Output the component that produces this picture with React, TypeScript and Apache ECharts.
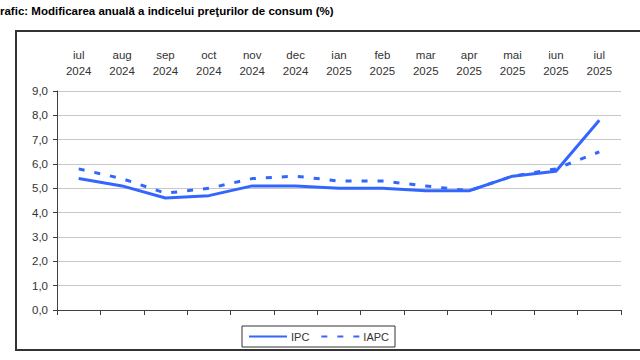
import React, { useEffect, useRef } from "react";
import * as echarts from "echarts";

const months = ["iul", "aug", "sep", "oct", "nov", "dec", "ian", "feb", "mar", "apr", "mai", "iun", "iul"];
const years = ["2024", "2024", "2024", "2024", "2024", "2024", "2025", "2025", "2025", "2025", "2025", "2025", "2025"];
const ipc = [5.4, 5.1, 4.6, 4.7, 5.1, 5.1, 5.0, 5.0, 4.9, 4.9, 5.5, 5.7, 7.8];
const iapc = [5.8, 5.4, 4.8, 5.0, 5.4, 5.5, 5.3, 5.3, 5.1, 4.9, 5.5, 5.8, 6.5];
const titleText = "rafic: Modificarea anuală a indicelui preţurilor de consum (%)";

const FONT = "'Liberation Sans', Arial, sans-serif";
const BLUE = "#3366ff";

export default function App() {
  const ref = useRef<HTMLDivElement>(null);
  useEffect(() => {
    if (!ref.current) return;
    const chart = echarts.init(ref.current, null, { renderer: "svg" });
    const categories = months.map((m, i) => m + "\n" + years[i]);
    chart.setOption({
      animation: false,
      backgroundColor: "#ffffff",
      textStyle: { fontFamily: FONT },
      graphic: [
        {
          type: "rect",
          shape: { x: 16, y: 31, width: 700, height: 319 },
          style: { fill: "none", stroke: "#333333", lineWidth: 2 },
          z: 0,
        },
        {
          type: "text",
          x: 0,
          y: 5,
          style: {
            text: titleText,
            fontFamily: FONT,
            fontSize: 11.5,
            fontWeight: "bold",
            fill: "#000000",
          },
        },
      ],
      grid: { left: 57, right: 19, top: 91, bottom: 50 },
      legend: {
        left: 242,
        top: 326,
        padding: [5, 6, 5, 6],
        itemWidth: 38,
        itemHeight: 12,
        itemGap: 11,
        borderColor: "#333333",
        borderWidth: 1,
        backgroundColor: "#ffffff",
        itemStyle: { opacity: 0 },
        z: 10,
        textStyle: { fontSize: 11, color: "#333333", fontFamily: FONT, padding: [0, 0, 0, -1] },
        data: ["IPC", "IAPC"],
      },
      xAxis: [
        {
          type: "category",
          data: categories,
          position: "bottom",
          boundaryGap: true,
          axisLine: { show: true, lineStyle: { color: "#404040", width: 1 } },
          axisTick: { show: true, interval: 0, length: 5, lineStyle: { color: "#404040" } },
          axisLabel: { show: false },
          splitLine: { show: false },
        },
        {
          type: "category",
          data: categories,
          position: "top",
          boundaryGap: true,
          axisLine: { show: false },
          axisTick: { show: false },
          axisLabel: {
            show: true,
            interval: 0,
            margin: 12,
            fontSize: 11.5,
            lineHeight: 16,
            color: "#333333",
            fontFamily: FONT,
          },
        },
      ],
      yAxis: {
        type: "value",
        min: 0,
        max: 9,
        interval: 1,
        axisLine: { show: true, lineStyle: { color: "#404040", width: 1 } },
        axisTick: { show: true, length: 4, lineStyle: { color: "#404040" } },
        axisLabel: {
          fontSize: 11.5,
          color: "#333333",
          margin: 9,
          fontFamily: FONT,
          formatter: (v: number) => v.toFixed(1).replace(".", ","),
        },
        splitLine: { show: true, lineStyle: { color: "#c8c8c8", width: 1 } },
      },
      series: [
        {
          name: "IPC",
          type: "line",
          data: ipc,
          xAxisIndex: 0,
          symbol: "none",
          lineStyle: { color: BLUE, width: 3 },
          itemStyle: { color: BLUE },
          z: 3,
        },
        {
          name: "IAPC",
          type: "line",
          data: iapc,
          xAxisIndex: 0,
          symbol: "none",
          lineStyle: { color: BLUE, width: 3, type: [6, 10] },
          itemStyle: { color: BLUE },
          z: 2,
        },
      ],
    });
    return () => chart.dispose();
  }, []);
  return (
    <div
      ref={ref}
      style={{ position: "fixed", left: 0, top: 0, width: 640, height: 360 }}
    />
  );
}
